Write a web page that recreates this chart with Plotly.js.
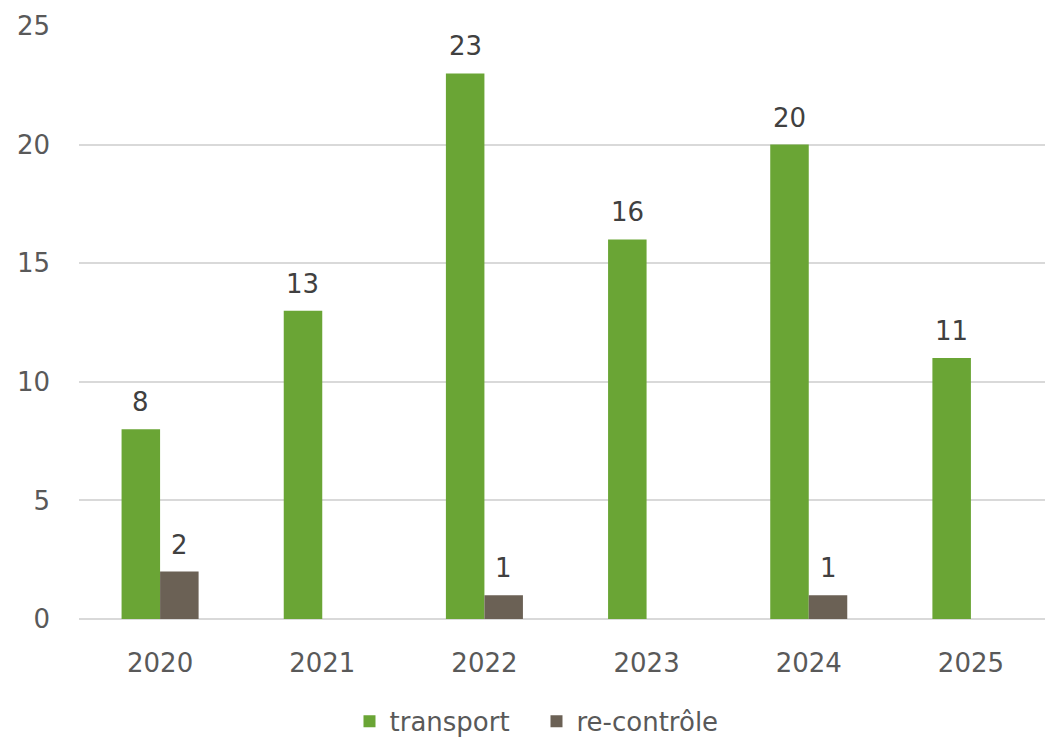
<!DOCTYPE html>
<html><head><meta charset="utf-8">
<script src="https://cdn.plot.ly/plotly-3.0.1.min.js"></script>
<style>html,body{margin:0;padding:0;overflow:hidden;background:#fff}</style>
</head><body>
<div id="chart" style="width:1052px;height:738px"></div>
<script>
const years = ['2020','2021','2022','2023','2024','2025'];
const transport = [8, 13, 23, 16, 20, 11];
const recontrole = [2, null, 1, null, 1, null];
const yTicks = [0, 5, 10, 15, 20, 25];

const font = '"DejaVu Sans", sans-serif';
const bargap = 0.525;
const off = (1 - bargap) / 4;
const labelFont = {family:font, size:26, color:'#404040'};

const annotations = [];
transport.forEach((v, i) => {
  if (v != null) annotations.push({x:i - off, y:v, xref:'x', yref:'y', text:String(v), showarrow:false,
    yanchor:'bottom', yshift:10, font:labelFont});
});
recontrole.forEach((v, i) => {
  if (v != null) annotations.push({x:i + off, y:v, xref:'x', yref:'y', text:String(v), showarrow:false,
    yanchor:'bottom', yshift:10, font:labelFont});
});

const data = [
  {type:'bar', name:'transport', x:years, y:transport, marker:{color:'#6aa535'}},
  {type:'bar', name:'re-contrôle', x:years, y:recontrole, marker:{color:'#6b6155'}}
];
const layout = {
  width:1052, height:738,
  margin:{l:79, r:0, t:25.5, b:119, autoexpand:false},
  paper_bgcolor:'#fff', plot_bgcolor:'#fff',
  font:{family:font, color:'#595959', size:26},
  barmode:'group', bargap:bargap, bargroupgap:0,
  showlegend:true,
  legend:{orientation:'h', x:0.278, xanchor:'left', y:-0.133, yanchor:'top',
    font:{size:26, color:'#595959'}, itemwidth:30, entrywidth:142, traceorder:'normal'},
  xaxis:{type:'category', automargin:false, showgrid:false, zeroline:false, showline:false, ticks:'', ticklabelstandoff:26,
    tickfont:{size:26, color:'#595959'}},
  yaxis:{range:[0,25], automargin:false, tickvals:yTicks, showgrid:true, gridcolor:'#d9d9d9', gridwidth:2,
    zeroline:true, zerolinecolor:'#d9d9d9', zerolinewidth:2, showline:false, ticks:'',
    ticklabelstandoff:28, tickfont:{size:26, color:'#595959'}},
  annotations: annotations
};
Plotly.newPlot('chart', data, layout, {displayModeBar:false, staticPlot:true});
</script>
</body></html>
